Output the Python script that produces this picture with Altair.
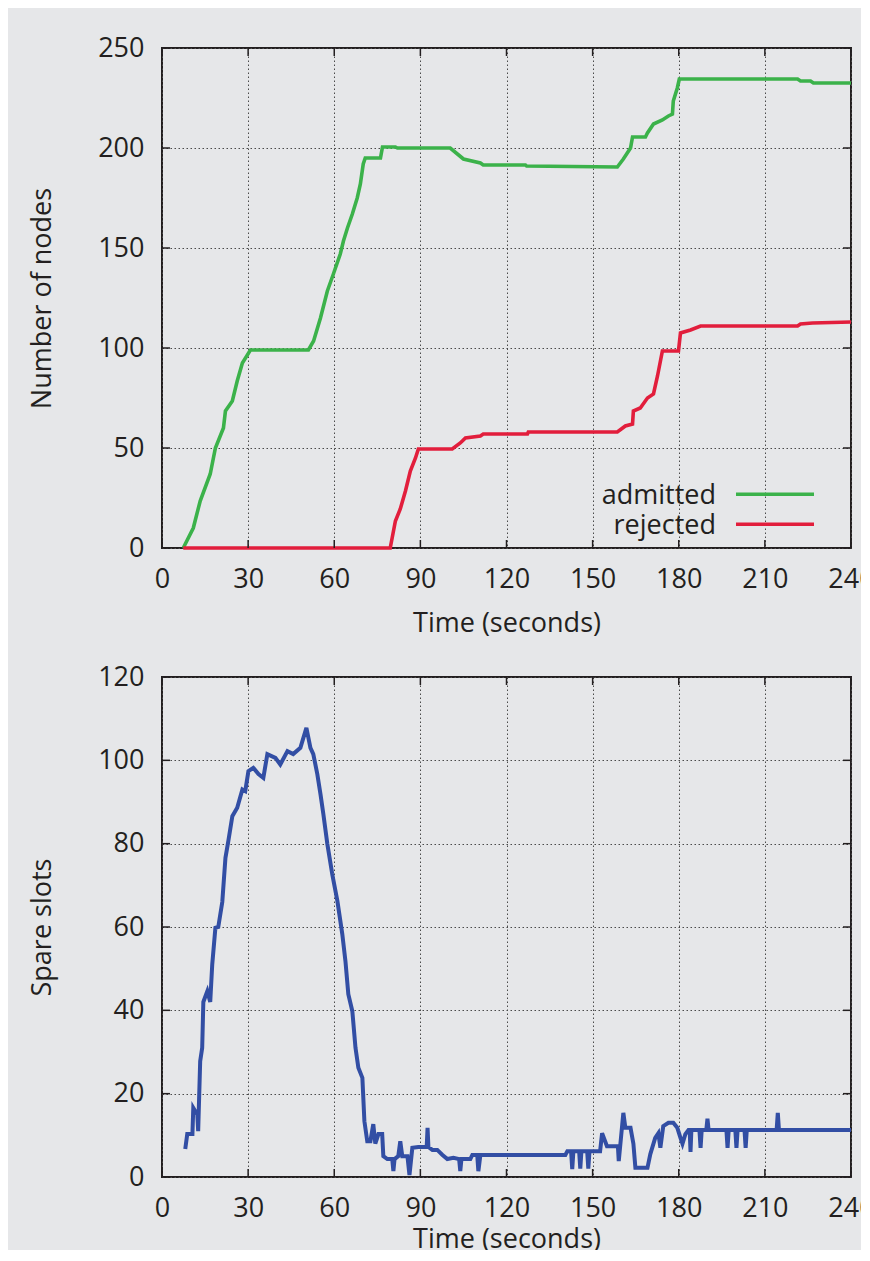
import altair as alt
import pandas as pd

# ---------------- data ----------------
adm_t = [7.4, 10.9, 13.3, 16.8, 18.6, 21.4, 22.1, 24.5, 26.2, 28.0, 30.8, 51.0, 52.8, 55.2,
         57.6, 59.7, 62.1, 63.2, 64.6, 66.3, 68.0, 69.1, 70.1, 70.8, 76.1, 76.8, 81.3, 82.0,
         100.4, 105.0, 110.9, 111.9, 126.6, 127.0, 158.6, 160.7, 163.2, 163.9, 168.4, 169.1,
         171.2, 174.3, 176.4, 177.8, 178.1, 179.5, 180.2, 221.4, 222.4, 225.9, 226.9, 240.0]
adm_n = [0, 10, 23.5, 37, 50, 60, 68.5, 73.5, 83.5, 92.5, 99, 99, 103.5, 115,
         128.5, 137, 147, 153.5, 160, 167, 175, 182, 192, 195, 195, 200.5, 200.5, 200,
         200, 194.5, 192.5, 191.5, 191.5, 191, 190.5, 194.5, 200, 205.5, 205.5, 207.5,
         212, 214, 216, 217, 223.5, 230, 234.5, 234.5, 233.5, 233.5, 232.5, 232.5]

rej_t = [7.4, 79.5, 81.3, 83.0, 84.8, 86.5, 88.3, 89.3, 101.1, 103.9, 105.7, 110.9, 111.9,
         127.3, 127.6, 158.6, 161.4, 163.9, 164.2, 166.6, 169.1, 171.2, 172.6, 174.3, 179.9,
         180.6, 184.1, 187.6, 221.4, 222.4, 226.6, 240.0]
rej_n = [0, 0, 13.5, 19.5, 28.5, 38.5, 45, 49.5, 49.5, 52.5, 55, 56, 57,
         57, 58, 58, 61, 62, 68.5, 70, 75, 77, 86, 98.5, 98.5,
         107.5, 109, 111, 111, 112, 112.5, 113]

spare_t = [8.1, 8.8, 10.6, 10.9, 12.3, 12.6, 13.3, 14.0, 14.4, 15.8, 16.8, 17.5, 18.6, 19.6,
           21.0, 22.1, 23.1, 24.5, 26.2, 28.0, 29.0, 30.1, 31.8, 33.6, 35.3, 36.7, 39.5, 41.2,
           43.7, 45.7, 48.2, 50.3, 51.7, 52.7, 54.1, 55.2, 56.2, 57.6, 59.3, 61.1, 62.8, 63.9,
           64.9, 66.3, 67.4, 68.4, 69.8, 70.5, 71.5, 72.6, 73.6, 74.3, 75.4, 76.7, 77.1, 78.5,
           80.2, 80.6, 81.0, 82.3, 83.0, 83.7, 85.5, 86.2, 87.2, 89.3, 92.2, 92.5, 92.8, 94.2,
           95.9, 97.7, 99.4, 101.5, 103.5, 103.9, 104.3, 107.4, 108.1, 109.8, 110.2, 110.9,
           140.5, 141.2, 142.5, 142.9, 143.3, 145.3, 145.7, 146.1, 148.1, 148.5, 148.9, 152.6,
           153.3, 155.0, 158.8, 159.1, 160.7, 161.4, 163.2, 164.2, 164.9, 169.1, 170.1, 171.8,
           172.9, 173.6, 174.6, 176.4, 178.1, 179.5, 180.6, 181.3, 182.3, 183.4, 183.8, 184.1,
           184.4, 187.2, 187.6, 188.0, 189.6, 190.0, 190.4, 196.6, 197.0, 197.4, 199.7, 200.1,
           200.5, 202.9, 203.3, 203.7, 214.1, 214.5, 214.9, 240.0]
spare_n = [6.7, 10.3, 10.3, 16.6, 15, 11, 27.8, 31, 42, 44.6, 42, 51, 59.8, 60,
           66, 76.6, 80.6, 86.6, 88.6, 93, 92.6, 97.4, 98.2, 96.7, 95.8, 101.5, 100.6, 99,
           102.2, 101.5, 103, 107.8, 103, 101.5, 96.7, 91.9, 87.1, 79.9, 72.7, 66.2, 58.3, 51.8,
           43.9, 39.8, 31, 26.2, 23.8, 13.4, 8.6, 8.6, 12.7, 8, 10.3, 10.3, 5, 4.3,
           4.3, 1.4, 4.3, 5, 8.6, 5, 5, 0.5, 7, 7.2, 7.2, 11.8, 7.2, 6.5,
           6.5, 5.3, 4.3, 4.6, 4.3, 1.4, 4.3, 4.3, 5.3, 5.3, 1.4, 5.3,
           5.3, 6.2, 6.2, 1.9, 6.2, 6.2, 2.0, 6.2, 6.2, 2.0, 6.2, 6.2,
           10.5, 7.4, 7.4, 3.8, 15.4, 11.8, 11.8, 8, 2.2, 2.2, 5.5, 9.4,
           10.5, 7, 12.2, 13, 13, 11.8, 9.4, 8, 10.3, 11.3, 11.3, 6,
           11.3, 11.3, 7, 11.3, 11.3, 14, 11.3, 11.3, 7, 11.3, 11.3, 7,
           11.3, 11.3, 7, 11.3, 11.3, 15.4, 11.3, 11.3]

series_names = ["admitted", "rejected"]
series_colors = ["#3BB24A", "#E21E3C"]
spare_color = "#324EA4"

x_ticks = [0, 30, 60, 90, 120, 150, 180, 210, 240]
top_y_ticks = [0, 50, 100, 150, 200, 250]
bot_y_ticks = [0, 20, 40, 60, 80, 100, 120]

# ---------------- styling ----------------
FONT = "Open Sans"
FS = 27
INK = "#231f20"
BG = "#e6e7e9"
W, H = 689, 500
TICK = 8

top_df = pd.concat([
    pd.DataFrame({"t": adm_t, "n": adm_n, "series": series_names[0]}),
    pd.DataFrame({"t": rej_t, "n": rej_n, "series": series_names[1]}),
])
bot_df = pd.DataFrame({"t": spare_t, "n": spare_n})

xscale = alt.Scale(domain=[0, 240], nice=False, zero=False)


def x_enc(title_pad):
    return alt.X("t:Q", scale=xscale,
                 axis=alt.Axis(values=x_ticks, title="Time (seconds)", labelPadding=18,
                               titlePadding=title_pad, labelFlush=False))


def tick_layers(yvals, yscale):
    xt = pd.DataFrame({"t": x_ticks})
    yt = pd.DataFrame({"n": yvals})
    layers = []
    for y0, y1 in [(0, TICK), (H - TICK, H)]:
        layers.append(alt.Chart(xt).mark_rule(color=INK, strokeWidth=1.5).encode(
            x=alt.X("t:Q", scale=xscale), y=alt.value(y0), y2=alt.value(y1)))
    for x0, x1 in [(0, TICK), (W - TICK, W)]:
        layers.append(alt.Chart(yt).mark_rule(color=INK, strokeWidth=1.5).encode(
            y=alt.Y("n:Q", scale=yscale), x=alt.value(x0), x2=alt.value(x1)))
    return layers


# top panel
top_yscale = alt.Scale(domain=[0, 250], nice=False)
top_lines = alt.Chart(top_df).mark_line(strokeWidth=3.6).encode(
    x=x_enc(18),
    y=alt.Y("n:Q", scale=top_yscale,
            axis=alt.Axis(values=top_y_ticks, title="Number of nodes", labelPadding=18,
                          titlePadding=41)),
    color=alt.Color("series:N", scale=alt.Scale(domain=series_names, range=series_colors),
                    legend=None),
    detail="series:N",
)

legend_layers = []
for i, (name, col) in enumerate(zip(series_names, series_colors)):
    legend_layers.append(alt.Chart(pd.DataFrame({"k": [name]})).mark_text(
        align="right", baseline="alphabetic", font=FONT, fontSize=FS, color=INK, text=name
    ).encode(x=alt.value(554), y=alt.value(455.5 + 30 * i)))
    legend_layers.append(alt.Chart(pd.DataFrame({"k": [name]})).mark_rule(
        color=col, strokeWidth=3.6
    ).encode(x=alt.value(574), x2=alt.value(652), y=alt.value(446.3 + 30 * i)))

top = alt.layer(top_lines, *tick_layers(top_y_ticks, top_yscale), *legend_layers).properties(
    width=W, height=H)

# bottom panel
bot_yscale = alt.Scale(domain=[0, 120], nice=False)
bot_line = alt.Chart(bot_df).mark_line(strokeWidth=4, color=spare_color).encode(
    x=x_enc(5),
    y=alt.Y("n:Q", scale=bot_yscale,
            axis=alt.Axis(values=bot_y_ticks, title="Spare slots", labelPadding=18,
                          titlePadding=41)),
)
bottom = alt.layer(bot_line, *tick_layers(bot_y_ticks, bot_yscale)).properties(
    width=W, height=H)

chart = alt.vconcat(top, bottom, spacing=25).properties(
    background=BG,
    padding={"left": 19, "top": 25, "right": -15, "bottom": -3},
).configure_view(
    stroke=INK, strokeWidth=2, fill=BG
).configure_axis(
    domain=False, ticks=False, grid=True, gridColor="#4a4a4a", gridDash=[1.5, 2.5],
    gridWidth=1, labelFont=FONT, labelFontSize=FS, labelColor=INK,
    titleFont=FONT, titleFontSize=FS, titleFontWeight="normal", titleColor=INK,
)

chart.save("out.html", embed_options={"renderer": "svg", "actions": False})
